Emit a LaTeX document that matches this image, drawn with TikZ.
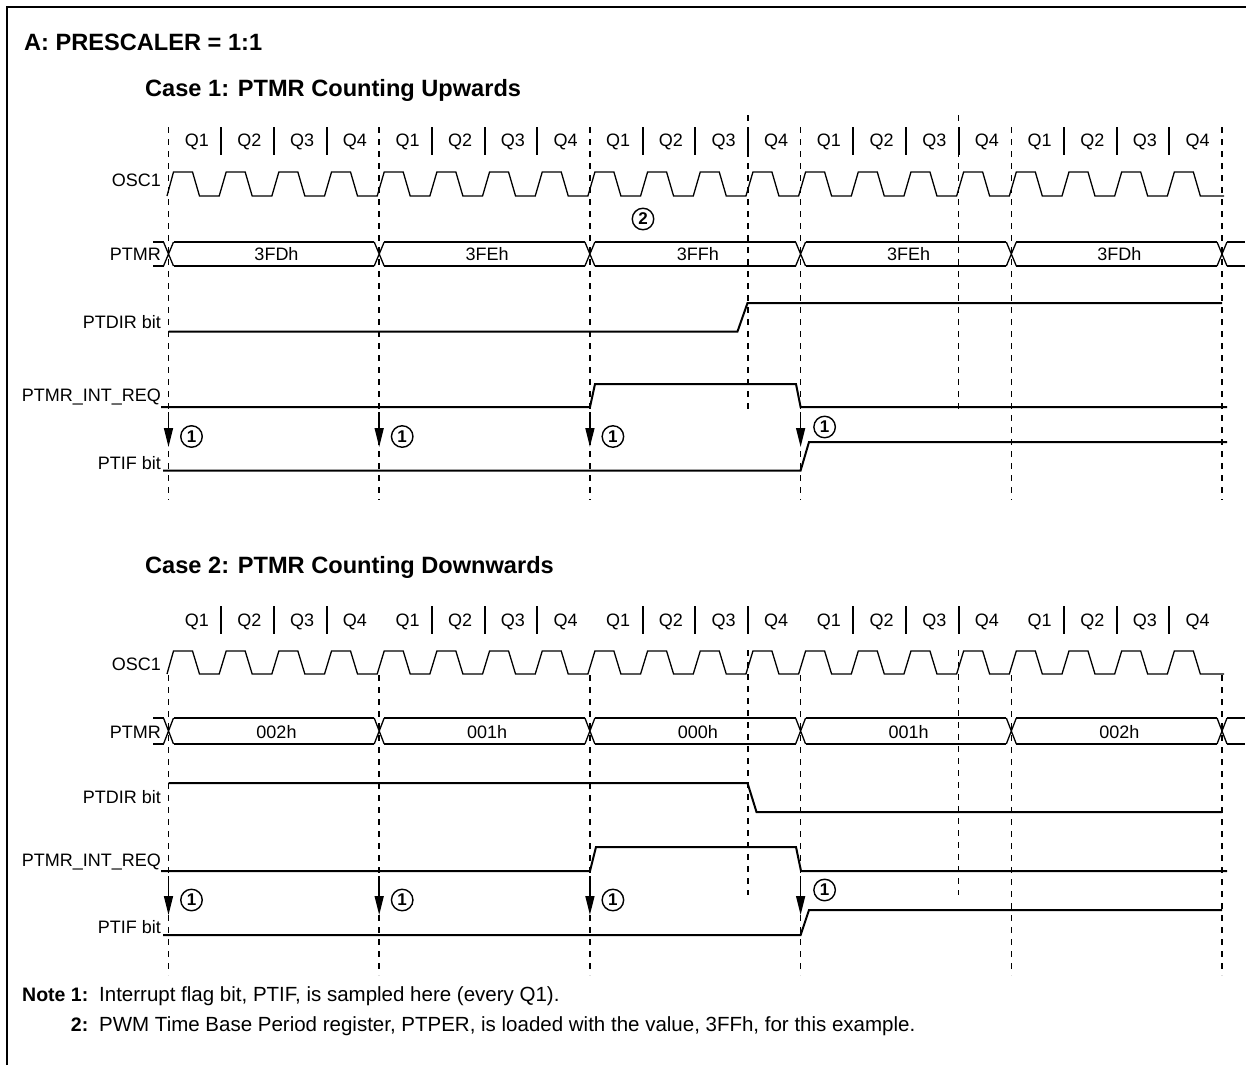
\documentclass[tikz,border=0pt]{standalone}
\usepackage{fontspec}
\setmainfont{Liberation Sans}
\usetikzlibrary{arrows.meta}
\begin{document}
\begin{tikzpicture}[x=1pt,y=-1pt,
  frame/.style={line width=2.5pt},
  sig/.style={line width=2pt},
  thinw/.style={line width=1.3pt},
  dline/.style={line width=1.5pt, dash pattern=on 6pt off 6pt},
  sepbar/.style={line width=2pt},
  lbl/.style={font=\fontsize{18}{21}\selectfont, inner sep=0pt},
  blbl/.style={font=\bfseries\fontsize{19.5}{23}\selectfont, inner sep=0pt},
  nlbl/.style={font=\fontsize{20.5}{24}\selectfont, inner sep=0pt},
  ttl/.style={font=\bfseries\fontsize{23.6}{27}\selectfont, inner sep=0pt},
  cnum/.style={circle, draw, line width=1.4pt, inner sep=0pt, minimum size=21.5pt, font=\bfseries\fontsize{17}{18}\selectfont},
  arr/.style={line width=1.5pt, -{Triangle[length=19pt,width=9pt]}},
]
\useasboundingbox (0,0) rectangle (1246,1065);
\fill[white] (0,0) rectangle (1246,1065);
\draw[frame] (7,1065) -- (7,7) -- (1246,7);

\node[ttl, anchor=base west] (ttlA) at (24,51) {A: PRESCALER = 1:1};
\node[ttl, anchor=base west] (ttl1) at (145,96) {Case 1: PTMR Counting Upwards};
\node[ttl, anchor=base west] (ttl2) at (145,573) {Case 2: PTMR Counting Downwards};

% ================= CASE 1 =================
\foreach \k in {0,...,5} \draw[dline] ({168.5+210.7*\k},127) -- ++(0,373);
\draw[dline] (747.9,115) -- (747.9,410);
\draw[dline] (958.6,115) -- (958.6,410);

\foreach \i in {0,...,4} {
  \foreach \j in {1,2,3} \draw[sepbar] ({168.5+210.7*\i+52.675*\j},127) -- ++(0,28);
  \foreach \j in {0,...,3} \node[lbl, anchor=base] (qa\i\j) at ({168.5+210.7*\i+52.675*\j+28.3},146.5) {Q\the\numexpr\j+1\relax};
}

\node[lbl, anchor=base east] (oscA) at (161,186) {OSC1};
\node[lbl, anchor=base east] (ptmrA) at (161,260) {PTMR};
\node[lbl, anchor=base east] (dirA) at (161,328.5) {PTDIR bit};
\node[lbl, anchor=base east] (reqA) at (161,401.7) {PTMR\_INT\_REQ};
\node[lbl, anchor=base east] (ifA) at (161,469) {PTIF bit};

\draw[thinw] (167,196) \foreach \k in {0,...,19} { -- ({168.5+52.675*\k+5},172) -- ({168.5+52.675*\k+24},172) -- ({168.5+52.675*\k+31},196) -- ({168.5+52.675*\k+50.675},196) } -- (1224,196);

\foreach \k in {0,...,5} \draw[thinw] ({168.5+210.7*\k-5},242) -- ({168.5+210.7*\k+5},266) ({168.5+210.7*\k-5},266) -- ({168.5+210.7*\k+5},242);
\foreach \k in {0,...,4} \draw[thinw] ({168.5+210.7*\k+5},242) -- ({168.5+210.7*\k+205.7},242) ({168.5+210.7*\k+5},266) -- ({168.5+210.7*\k+205.7},266);
\draw[thinw] (153,242) -- (163.5,242) (153,266) -- (163.5,266);
\draw[thinw] (1227,242) -- (1245,242) (1227,266) -- (1245,266);
\foreach \v [count=\c from 0] in {3FDh,3FEh,3FFh,3FEh,3FDh} \node[lbl, anchor=base] (va\c) at ({168.5+210.7*\c+108},260) {\v};
\node[cnum] (c2) at (643,219) {2};

\draw[sig] (168.5,331.5) -- (737.5,331.5) -- (747.5,303) -- (1222,303);
\draw[sig] (161,407) -- (590,407) -- (595,384) -- (796,384) -- (800.6,407) -- (1227,407);
\draw[sig] (163,470.5) -- (800.6,470.5) -- (809,442) -- (1227,442);
\foreach \k in {0,1,2,3} \draw[arr] ({168.5+210.7*\k},412) -- ({168.5+210.7*\k},447);
\foreach \k in {0,1,2} \node[cnum] (ca\k) at ({168.5+210.7*\k+23},436.5) {1};
\node[cnum] (ca3) at (824.6,427) {1};

% ================= CASE 2 =================
\foreach \k in {0,...,5} \draw[dline] ({168.5+210.7*\k},675) -- ++(0,300);
\draw[dline] (747.9,650) -- (747.9,895);
\draw[dline] (958.6,650) -- (958.6,895);

\foreach \i in {0,...,4} {
  \foreach \j in {1,2,3} \draw[sepbar] ({168.5+210.7*\i+52.675*\j},606) -- ++(0,28);
  \foreach \j in {0,...,3} \node[lbl, anchor=base] (qb\i\j) at ({168.5+210.7*\i+52.675*\j+28.3},626.5) {Q\the\numexpr\j+1\relax};
}

\node[lbl, anchor=base east] (oscB) at (161,670) {OSC1};
\node[lbl, anchor=base east] (ptmrB) at (161,738.5) {PTMR};
\node[lbl, anchor=base east] (dirB) at (161,803.3) {PTDIR bit};
\node[lbl, anchor=base east] (reqB) at (161,866.5) {PTMR\_INT\_REQ};
\node[lbl, anchor=base east] (ifB) at (161,933) {PTIF bit};

\draw[thinw] (167,674) \foreach \k in {0,...,19} { -- ({168.5+52.675*\k+5},651) -- ({168.5+52.675*\k+24},651) -- ({168.5+52.675*\k+31},674) -- ({168.5+52.675*\k+50.675},674) } -- (1224,674);

\foreach \k in {0,...,5} \draw[thinw] ({168.5+210.7*\k-5},718) -- ({168.5+210.7*\k+5},744) ({168.5+210.7*\k-5},744) -- ({168.5+210.7*\k+5},718);
\foreach \k in {0,...,4} \draw[thinw] ({168.5+210.7*\k+5},718) -- ({168.5+210.7*\k+205.7},718) ({168.5+210.7*\k+5},744) -- ({168.5+210.7*\k+205.7},744);
\draw[thinw] (153,718) -- (163.5,718) (153,744) -- (163.5,744);
\draw[thinw] (1227,718) -- (1245,718) (1227,744) -- (1245,744);
\foreach \v [count=\c from 0] in {002h,001h,000h,001h,002h} \node[lbl, anchor=base] (vb\c) at ({168.5+210.7*\c+108},738.5) {\v};

\draw[sig] (168.5,783) -- (747.5,783) -- (756.5,812) -- (1222,812);
\draw[sig] (161,871) -- (590,871) -- (596,847) -- (796,847) -- (801,871) -- (1227,871);
\draw[sig] (163,935) -- (800.6,935) -- (809,910) -- (1222,910);
\foreach \k in {0,1,2,3} \draw[arr] ({168.5+210.7*\k},876) -- ({168.5+210.7*\k},915);
\foreach \k in {0,1,2} \node[cnum] (cb\k) at ({168.5+210.7*\k+23},900) {1};
\node[cnum] (cb3) at (824.6,890) {1};

% ================= NOTES =================
\node[blbl, anchor=base west] (n1) at (22,1001.5) {Note 1:};
\node[nlbl, anchor=base west] (n1t) at (99,1001.5) {Interrupt flag bit, PTIF, is sampled here (every Q1).};
\node[blbl, anchor=base east] (n2) at (n1.base east |- 0,1031.5) {2:};
\node[nlbl, anchor=base west] (n2t) at (99,1031.5) {PWM Time Base Period register, PTPER, is loaded with the value, 3FFh, for this example.};
\end{tikzpicture}
\end{document}
